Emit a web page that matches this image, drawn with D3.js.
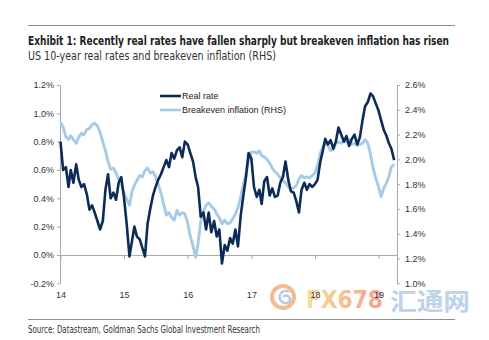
<!DOCTYPE html>
<html>
<head>
<meta charset="utf-8">
<script src="https://cdn.jsdelivr.net/npm/d3@7"></script>
<style>
  body { margin: 0; background: #fff; }
  svg { display: block; }
</style>
</head>
<body>
<main></main>
<script>
// Semi-monthly observations, Jan 2014 - Apr 2019
const dates = [
  "2014-01-01","2014-01-16","2014-02-01","2014-02-16","2014-03-01","2014-03-16","2014-04-01","2014-04-16","2014-05-01","2014-05-16","2014-06-01","2014-06-16",
  "2014-07-01","2014-07-16","2014-08-01","2014-08-16","2014-09-01","2014-09-16","2014-10-01","2014-10-16","2014-11-01","2014-11-16","2014-12-01","2014-12-16",
  "2015-01-01","2015-01-16","2015-02-01","2015-02-16","2015-03-01","2015-03-16","2015-04-01","2015-04-16","2015-05-01","2015-05-16","2015-06-01","2015-06-16",
  "2015-07-01","2015-07-16","2015-08-01","2015-08-16","2015-09-01","2015-09-16","2015-10-01","2015-10-16","2015-11-01","2015-11-16","2015-12-01","2015-12-16",
  "2016-01-01","2016-01-16","2016-02-01","2016-02-16","2016-03-01","2016-03-16","2016-04-01","2016-04-16","2016-05-01","2016-05-16","2016-06-01","2016-06-16",
  "2016-07-01","2016-07-16","2016-08-01","2016-08-16","2016-09-01","2016-09-16","2016-10-01","2016-10-16","2016-11-01","2016-11-16","2016-12-01","2016-12-16",
  "2017-01-01","2017-01-16","2017-02-01","2017-02-16","2017-03-01","2017-03-16","2017-04-01","2017-04-16","2017-05-01","2017-05-16","2017-06-01","2017-06-16",
  "2017-07-01","2017-07-16","2017-08-01","2017-08-16","2017-09-01","2017-09-16","2017-10-01","2017-10-16","2017-11-01","2017-11-16","2017-12-01","2017-12-16",
  "2018-01-01","2018-01-16","2018-02-01","2018-02-16","2018-03-01","2018-03-16","2018-04-01","2018-04-16","2018-05-01","2018-05-16","2018-06-01","2018-06-16",
  "2018-07-01","2018-07-16","2018-08-01","2018-08-16","2018-09-01","2018-09-16","2018-10-01","2018-10-16","2018-11-01","2018-11-16","2018-12-01","2018-12-16",
  "2019-01-01","2019-01-16","2019-02-01","2019-02-16","2019-03-01","2019-03-16","2019-04-01"
];

// US 10-year real rate (%, left axis)
const realRate = [
  0.80,0.60,0.62,0.48,0.60,0.51,0.64,0.53,0.48,0.50,0.43,0.32, 0.35,0.30,0.24,0.18,0.24,0.46,0.57,0.40,0.44,0.39,0.51,0.55,
  0.40,0.22,-0.01,0.10,0.20,0.13,0.11,0.05,-0.01,0.22,0.33,0.42, 0.48,0.53,0.57,0.62,0.67,0.62,0.72,0.68,0.74,0.76,0.69,0.80,
  0.78,0.72,0.66,0.55,0.48,0.27,0.30,0.18,0.30,0.16,0.24,0.13, 0.18,-0.06,0.07,0.03,0.12,0.08,0.18,0.06,0.28,0.42,0.55,0.72,
  0.68,0.48,0.41,0.46,0.36,0.52,0.55,0.42,0.47,0.41,0.42,0.51, 0.55,0.66,0.53,0.45,0.44,0.38,0.30,0.46,0.51,0.46,0.50,0.48,
  0.50,0.53,0.66,0.74,0.82,0.78,0.81,0.75,0.80,0.90,0.85,0.80, 0.84,0.77,0.82,0.85,0.78,0.83,0.95,1.05,1.08,1.14,1.12,1.07,
  1.02,0.95,0.88,0.84,0.79,0.75,0.67
];

// US 10-year breakeven inflation (%, right axis)
const breakeven = [
  2.30,2.26,2.18,2.16,2.19,2.16,2.13,2.18,2.21,2.20,2.24,2.25, 2.28,2.29,2.27,2.22,2.14,2.07,1.98,1.92,1.93,1.89,1.84,1.80,
  1.73,1.68,1.63,1.74,1.79,1.83,1.87,1.86,1.91,1.93,1.89,1.90, 1.86,1.80,1.73,1.64,1.55,1.57,1.53,1.51,1.59,1.55,1.57,1.56,
  1.49,1.38,1.30,1.21,1.32,1.50,1.58,1.63,1.65,1.62,1.60,1.56, 1.53,1.48,1.51,1.48,1.49,1.52,1.56,1.61,1.70,1.80,1.88,2.00,
  2.06,2.06,2.05,2.07,2.03,2.02,2.00,1.97,1.93,1.90,1.88,1.85, 1.83,1.81,1.78,1.76,1.77,1.79,1.84,1.87,1.85,1.86,1.85,1.87,
  1.89,1.95,2.05,2.10,2.13,2.11,2.07,2.08,2.13,2.14,2.13,2.15, 2.14,2.16,2.12,2.13,2.11,2.12,2.13,2.16,2.13,2.04,1.93,1.85,
  1.78,1.70,1.77,1.81,1.86,1.94,1.96
];

const leftTicks = [-0.2, 0.0, 0.2, 0.4, 0.6, 0.8, 1.0, 1.2];
const rightTicks = [1.0, 1.2, 1.4, 1.6, 1.8, 2.0, 2.2, 2.4, 2.6];
const yearTicks = ["2014-01-01","2015-01-01","2016-01-01","2017-01-01","2018-01-01","2019-01-01"];

const seriesNames = ["Real rate", "Breakeven inflation (RHS)"];
const title = "Exhibit 1: Recently real rates have fallen sharply but breakeven inflation has risen";
const subtitle = "US 10-year real rates and breakeven inflation (RHS)";
const source = "Source: Datastream, Goldman Sachs Global Investment Research";

const darkBlue = "#0c2c58";
const lightBlue = "#a6cbe6";
const narrow = "'Liberation Sans Narrow', 'DejaVu Sans Condensed', 'Arial Narrow', sans-serif";
const sans = "'Liberation Sans', Arial, sans-serif";

function createChart() {
    const svgWidth = 489, svgHeight = 340;
    const plot = { left: 60, right: 397, top: 85, bottom: 283.3 };

    const svg = d3.select('main').append('svg')
        .attr('width', svgWidth)
        .attr('height', svgHeight);

    const parse = d3.timeParse('%Y-%m-%d');
    const when = dates.map(parse);

    // Scales
    const x = d3.scaleTime()
        .domain([parse('2014-01-01'), parse('2019-01-01')])
        .range([60.5, 378.5]);
    const yLeft = d3.scaleLinear().domain([-0.2, 1.2]).range([plot.bottom, plot.top]);
    const yRight = d3.scaleLinear().domain([1.0, 2.6]).range([plot.bottom, plot.top]);

    // Site watermark (sits under the axis labels)
    const defs = svg.append('defs');
    const grad = defs.append('linearGradient').attr('id', 'wm');
    grad.append('stop').attr('offset', '0%').attr('stop-color', '#f7cf78');
    grad.append('stop').attr('offset', '100%').attr('stop-color', '#ee8466');

    const wm = svg.append('g').attr('opacity', 0.75);
    wm.append('circle')
        .attr('cx', 283).attr('cy', 297).attr('r', 11)
        .attr('fill', 'none').attr('stroke', '#f2a468').attr('stroke-width', 4);
    wm.append('path')
        .attr('d', 'M289,292 A6,6 0 1 0 289,302 A3.5,3.5 0 1 0 283,297')
        .attr('fill', 'none').attr('stroke', '#9fb8d8').attr('stroke-width', 2.5);
    wm.append('text')
        .attr('x', 306).attr('y', 308)
        .attr('font-family', narrow).attr('font-weight', 'bold').attr('font-size', 25)
        .attr('fill', 'url(#wm)')
        .attr('textLength', 77).attr('lengthAdjust', 'spacingAndGlyphs')
        .text('FX678');
    wm.append('text')
        .attr('x', 390).attr('y', 310)
        .attr('font-family', "'Noto Sans CJK SC', sans-serif").attr('font-weight', 'bold').attr('font-size', 24)
        .attr('fill', '#a9c3e2')
        .attr('textLength', 80).attr('lengthAdjust', 'spacingAndGlyphs')
        .text('汇通网');

    // Header
    svg.append('line')
        .attr('x1', 28).attr('x2', 455).attr('y1', 25.5).attr('y2', 25.5)
        .attr('stroke', '#8c8c8c').attr('stroke-width', 1);
    svg.append('text')
        .attr('x', 28).attr('y', 44.5)
        .attr('font-family', narrow).attr('font-weight', 'bold').attr('font-size', 13)
        .attr('fill', '#222')
        .attr('textLength', 421).attr('lengthAdjust', 'spacingAndGlyphs')
        .text(title);
    svg.append('text')
        .attr('x', 28).attr('y', 59.5)
        .attr('font-family', narrow).attr('font-size', 12.5)
        .attr('fill', '#333')
        .attr('textLength', 248).attr('lengthAdjust', 'spacingAndGlyphs')
        .text(subtitle);

    // Left axis
    const gl = svg.append('g')
        .attr('transform', `translate(${plot.left},0)`)
        .call(d3.axisLeft(yLeft).tickValues(leftTicks).tickSize(3).tickSizeOuter(0)
            .tickFormat(d => d.toFixed(1) + '%'));

    // Right axis
    const gr = svg.append('g')
        .attr('transform', `translate(${plot.right},0)`)
        .call(d3.axisRight(yRight).tickValues(rightTicks).tickSize(3).tickSizeOuter(0)
            .tickPadding(5)
            .tickFormat(d => d.toFixed(1) + '%'));

    // Zero line with year ticks, labels sit at the bottom of the plot
    const gx = svg.append('g')
        .attr('transform', `translate(0,${yLeft(0)})`)
        .call(d3.axisBottom(x).tickValues(yearTicks.map(parse)).tickSize(4).tickSizeOuter(0)
            .tickPadding(33)
            .tickFormat(d3.timeFormat('%y')));
    gx.select('.domain').attr('d', `M${plot.left},0.5H${plot.right}`);

    [gl, gr, gx].forEach(g => {
        g.select('.domain').attr('stroke', '#a8a8a8');
        g.selectAll('.tick line').attr('stroke', '#a8a8a8');
        g.selectAll('.tick text')
            .attr('fill', '#333')
            .attr('font-family', sans)
            .attr('font-size', 9);
    });

    // Lines
    const lineLeft = d3.line()
        .x((d, i) => x(when[i]))
        .y(d => yLeft(d));
    const lineRight = d3.line()
        .x((d, i) => x(when[i]))
        .y(d => yRight(d));

    svg.append('path')
        .datum(breakeven)
        .attr('d', lineRight)
        .attr('fill', 'none')
        .attr('stroke', lightBlue)
        .attr('stroke-width', 2.9)
        .attr('stroke-linejoin', 'round');

    svg.append('path')
        .datum(realRate)
        .attr('d', lineLeft)
        .attr('fill', 'none')
        .attr('stroke', darkBlue)
        .attr('stroke-width', 2.6)
        .attr('stroke-linejoin', 'round');

    // Legend
    const legend = svg.append('g').attr('transform', 'translate(160,96)');
    [darkBlue, lightBlue].forEach((c, i) => {
        legend.append('line')
            .attr('x1', 0).attr('x2', 21).attr('y1', i * 14).attr('y2', i * 14)
            .attr('stroke', c).attr('stroke-width', 2.6);
        legend.append('text')
            .attr('x', 22).attr('y', i * 14 + 3.3)
            .attr('font-family', sans).attr('font-size', 9)
            .attr('fill', '#222')
            .text(seriesNames[i]);
    });

    // Footer
    svg.append('line')
        .attr('x1', 28).attr('x2', 455).attr('y1', 319.5).attr('y2', 319.5)
        .attr('stroke', '#8c8c8c').attr('stroke-width', 1);
    svg.append('text')
        .attr('x', 28).attr('y', 333)
        .attr('font-family', narrow).attr('font-size', 10)
        .attr('fill', '#333')
        .attr('textLength', 232).attr('lengthAdjust', 'spacingAndGlyphs')
        .text(source);
}

createChart();
</script>
</body>
</html>
